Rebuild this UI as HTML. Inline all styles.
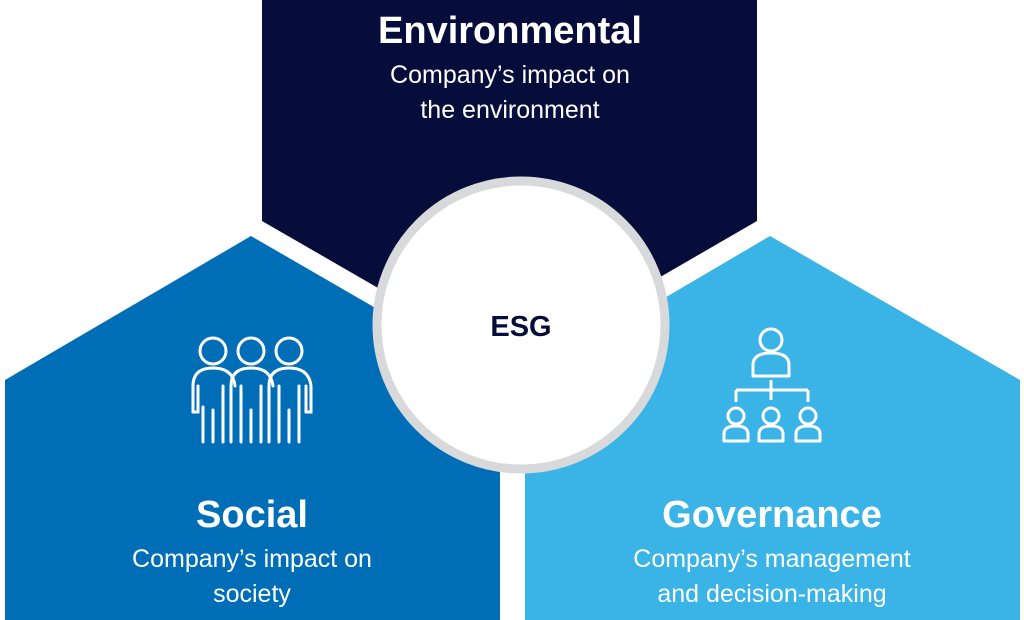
<!DOCTYPE html>
<html><head><meta charset="utf-8"><style>
html,body{margin:0;padding:0;background:#fff;}
body{width:1024px;height:620px;overflow:hidden;position:relative;font-family:"Liberation Sans",sans-serif;}
.t{position:absolute;color:#fff;text-align:center;white-space:nowrap;}
.h{font-weight:bold;font-size:38px;}
.s{font-size:25px;line-height:35px;}
</style></head><body>
<svg width="1024" height="620" style="position:absolute;left:0;top:0">
<polygon points="262,0 757,0 757,221 510,364 262,221" fill="#060d3a"/>
<polygon points="5,380 251,236 500,380 500,620 5,620" fill="#006eb7"/>
<polygon points="525,380 770,236 1020,380 1020,620 525,620" fill="#3ab3e6"/>
<circle cx="521" cy="325" r="144" fill="#fff" stroke="#d8d9db" stroke-width="9"/>
<text x="521" y="336" text-anchor="middle" font-family="Liberation Sans" font-weight="bold" font-size="29" fill="#060d3a">ESG</text>
<g fill="none" stroke="#fff" stroke-width="3" stroke-linecap="round">
 <circle cx="213" cy="351" r="13"/><circle cx="251" cy="351" r="13"/><circle cx="289" cy="351" r="13"/>
 <path d="M193,412 V386 Q193,368 213,368 Q233,368 235,386"/>
 <path d="M231,412 V386 Q231,368 251,368 Q271,368 273,386"/>
 <path d="M269,412 V386 Q269,368 289,368 Q309,368 311,386 V412 H306"/>
 <path d="M193,412 H198 V386"/>
 <path d="M203,407 V442 M213,410 V442 M223,386 V442 M231,412 V442"/>
 <path d="M241,386 V442 M251,410 V442 M261,386 V442 M269,412 V442"/>
 <path d="M279,386 V442 M289,410 V442 M299,386 V442 M306,412 V386"/>
</g>
<g fill="none" stroke="#fff" stroke-width="3" stroke-linejoin="round">
 <circle cx="771" cy="340" r="11"/>
 <path d="M753,376 V365 Q753,353 771,353 Q789,353 789,365 V376 Z"/>
 <path d="M771,380 V400 M736,390 H808 M736,390 V402 M808,390 V402"/>
 <circle cx="736" cy="416" r="8"/><path d="M724,441 V434 Q724,426 736,426 Q748,426 748,434 V441 Z"/>
 <circle cx="771" cy="416" r="8"/><path d="M759,441 V434 Q759,426 771,426 Q783,426 783,434 V441 Z"/>
 <circle cx="808" cy="416" r="8"/><path d="M796,441 V434 Q796,426 808,426 Q820,426 820,434 V441 Z"/>
</g>
</svg>
<div class="t h" style="left:310px;width:400px;top:10px;">Environmental</div>
<div class="t s" style="left:310px;width:400px;top:58px;">Company’s impact on<br>the environment</div>
<div class="t h" style="left:52px;width:400px;top:494px;">Social</div>
<div class="t s" style="left:52px;width:400px;top:542px;">Company’s impact on<br>society</div>
<div class="t h" style="left:572px;width:400px;top:494px;">Governance</div>
<div class="t s" style="left:572px;width:400px;top:542px;">Company’s management<br>and decision-making</div>
</body></html>
